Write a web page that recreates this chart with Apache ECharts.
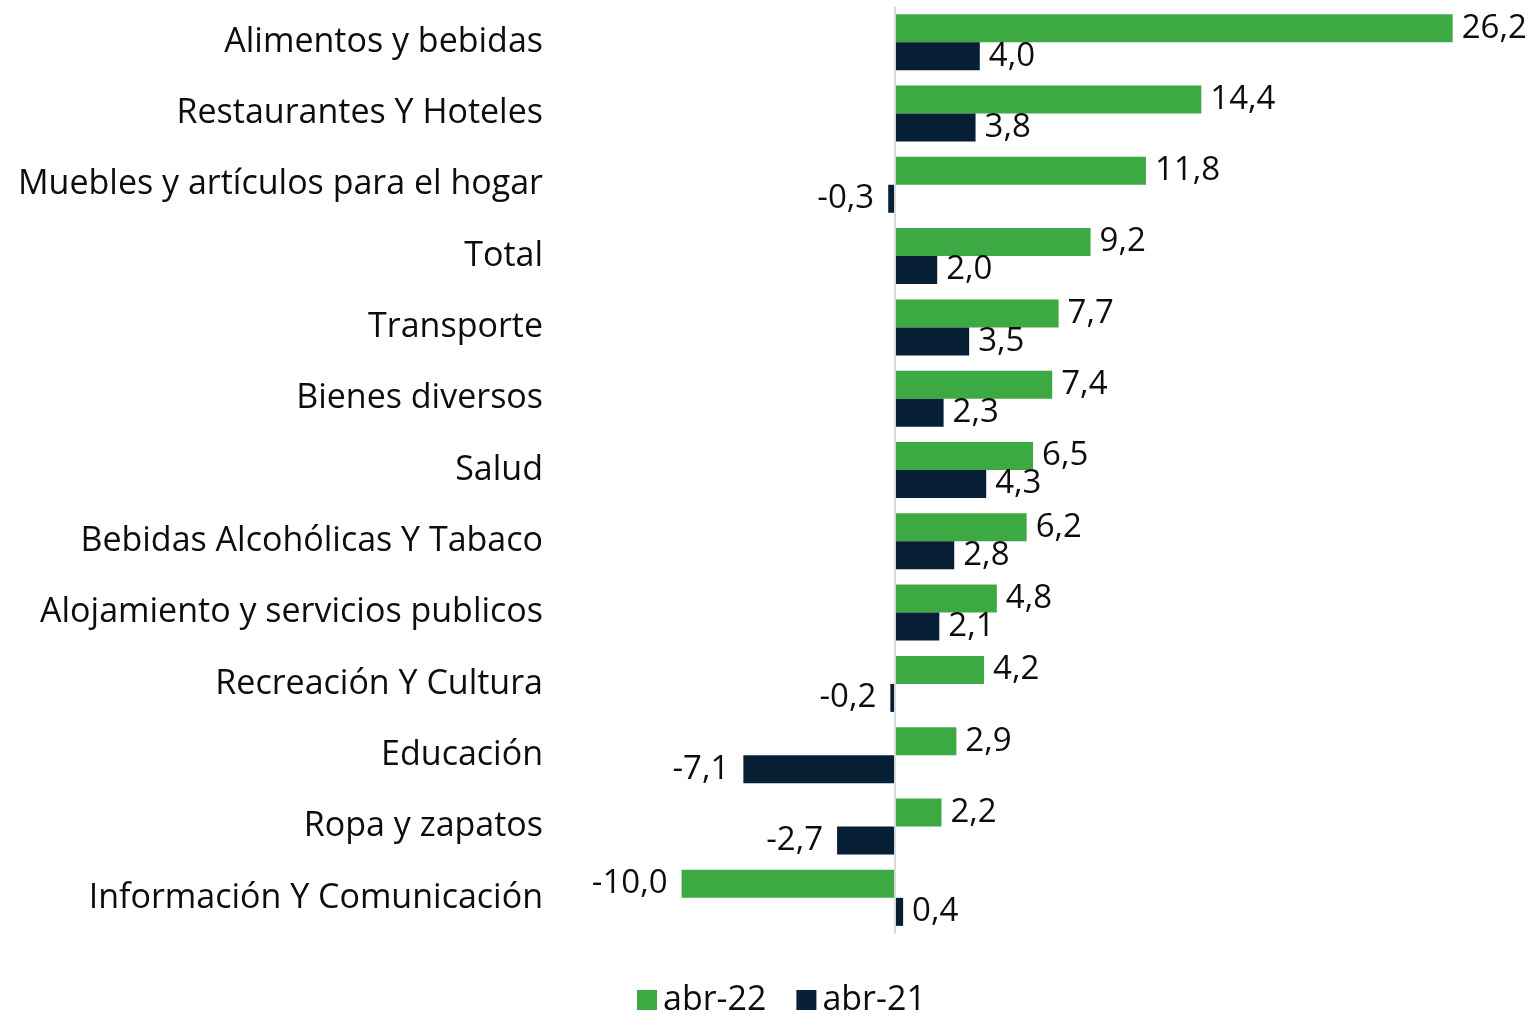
<!DOCTYPE html>
<html>
<head>
<meta charset="utf-8">
<script src="https://cdn.jsdelivr.net/npm/echarts@6/dist/echarts.min.js"></script>
<style>
  html, body { margin: 0; padding: 0; background: #fff; }
  #chart { width: 1534px; height: 1014px; }
</style>
</head>
<body>
<div id="chart"></div>
<script>
const categories = [
  'Alimentos y bebidas',
  'Restaurantes Y Hoteles',
  'Muebles y artículos para el hogar',
  'Total',
  'Transporte',
  'Bienes diversos',
  'Salud',
  'Bebidas Alcohólicas Y Tabaco',
  'Alojamiento y servicios publicos',
  'Recreación Y Cultura',
  'Educación',
  'Ropa y zapatos',
  'Información Y Comunicación'
]
const abr22 = [26.2, 14.4, 11.8, 9.2, 7.7, 7.4, 6.5, 6.2, 4.8, 4.2, 2.9, 2.2, -10.0]
const abr21 = [4.0, 3.8, -0.3, 2.0, 3.5, 2.3, 4.3, 2.8, 2.1, -0.2, -7.1, -2.7, 0.4]

const FONT = 'Open Sans'
const GREEN = '#3da942'
const NAVY = '#061f35'
const TEXT = '#0d0d0d'

// comma decimal labels, placed outside the bar end
function toItems(values) {
  return values.map((v) => ({
    value: v,
    label: v < 0 ? { position: 'left', distance: 14 } : { position: 'right', distance: 9 }
  }))
}

const labelStyle = {
  show: true,
  fontFamily: FONT,
  fontSize: 33,
  color: TEXT,
  formatter: (p) => p.value.toFixed(1).replace('.', ',')
}

const chart = echarts.init(document.getElementById('chart'))

chart.setOption({
  animation: false,
  grid: { left: 639, width: 852, top: 6.5, height: 927 },
  legend: {
    left: 632,
    top: 978,
    itemWidth: 20,
    itemHeight: 20,
    itemGap: 30,
    icon: 'rect',
    textStyle: { fontFamily: FONT, fontSize: 34, color: TEXT, padding: [0, 0, 0, 1] },
    data: ['abr-22', 'abr-21']
  },
  xAxis: {
    type: 'value',
    min: -12,
    max: 28,
    interval: 4,
    show: false
  },
  yAxis: {
    type: 'category',
    data: categories,
    inverse: true,
    axisLine: { show: false },
    axisTick: { show: false },
    axisLabel: {
      margin: 96,
      fontFamily: FONT,
      fontSize: 34,
      color: TEXT
    }
  },
  series: [
    {
      name: 'abr-22',
      type: 'bar',
      barWidth: 28,
      barGap: '0%',
      itemStyle: { color: GREEN },
      label: labelStyle,
      data: toItems(abr22),
      markLine: {
        silent: true,
        symbol: 'none',
        label: { show: false },
        lineStyle: { color: '#d9d9d9', width: 2, type: 'solid' },
        data: [{ xAxis: 0 }]
      }
    },
    {
      name: 'abr-21',
      type: 'bar',
      barWidth: 28,
      barGap: '0%',
      itemStyle: { color: NAVY },
      label: labelStyle,
      data: toItems(abr21)
    }
  ]
})
</script>
</body>
</html>
